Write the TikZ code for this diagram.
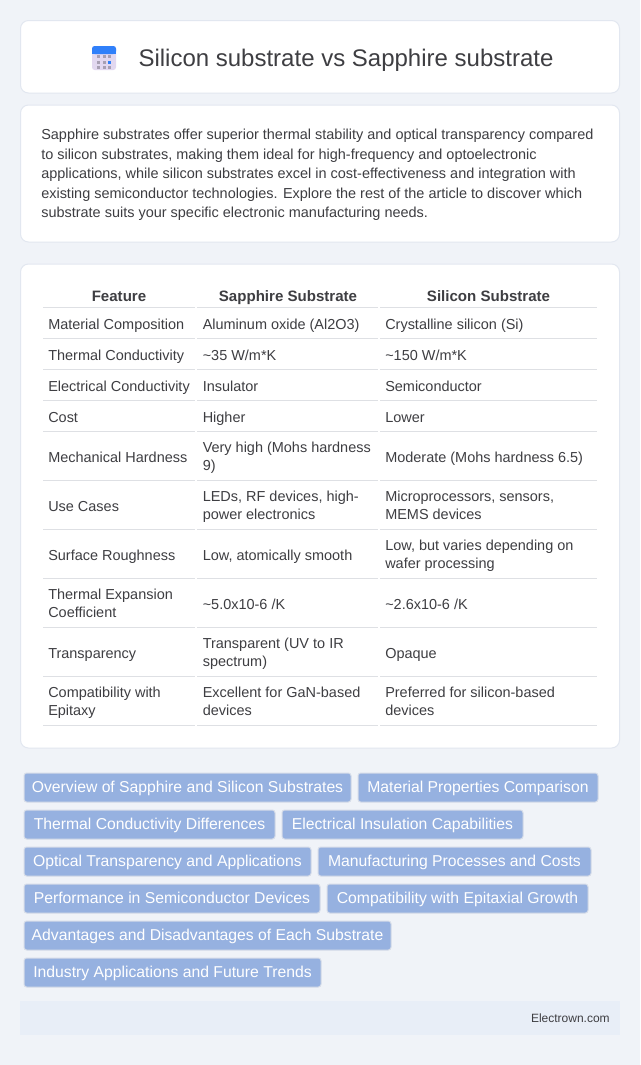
\documentclass[tikz,border=0pt]{standalone}
\usepackage{fontspec}
\setmainfont{Liberation Sans}
\usetikzlibrary{positioning}
\definecolor{pagebg}{RGB}{240,243,248}
\definecolor{panelline}{RGB}{226,231,240}
\definecolor{footbg}{RGB}{232,238,247}
\definecolor{tagblue}{RGB}{150,177,224}
\definecolor{tagline}{RGB}{214,220,232}
\definecolor{inktext}{RGB}{62,62,66}
\definecolor{rowline}{RGB}{222,224,228}
\definecolor{iconblue}{RGB}{48,128,250}
\definecolor{iconbody}{RGB}{226,216,240}
\definecolor{icondot}{RGB}{168,160,180}
\tikzstyle{panel} = [draw=panelline, fill=white, line width=0.75pt, rounded corners=6pt]
\tikzstyle{cell} = [anchor=west, inner sep=0pt, align=left, text=inktext, font=\fontsize{10.85}{13.5}\selectfont, execute at begin node=\strut, execute at end node=\strut]
\tikzstyle{headcell} = [anchor=base, inner sep=0pt, text=inktext, font=\fontsize{11.3}{13}\selectfont\bfseries]
\tikzstyle{tagbox} = [rectangle, rounded corners=2pt, draw=tagline, fill=tagblue, text=white, minimum height=21.75pt, text height=9.5pt, text depth=1.3pt, inner sep=0pt, line width=0.75pt, font=\fontsize{11.8}{14}\selectfont]
\begin{document}
\begin{tikzpicture}[x=0.75pt, y=-0.75pt]
\useasboundingbox (0,0) rectangle (640,1065);
\fill[pagebg] (0,0) rectangle (640,1065);
% Panels
\draw[panel] (20.5,20.5) rectangle (619.5,93);
\draw[panel] (20.5,105) rectangle (619.5,242);
\draw[panel] (20.5,264) rectangle (619.5,748);
\fill[footbg] (20,1001) rectangle (620,1035);
% Icon
\fill[iconbody, rounded corners=2pt] (92,46) rectangle (116,70);
\fill[iconblue, rounded corners=2pt] (92,46) rectangle (116,54);
\fill[iconblue] (92,51) rectangle (116,54);
\foreach \ix in {0,1,2}
  \foreach \iy in {0,1,2}
    \fill[icondot] (97+5.5*\ix,55+5.5*\iy) rectangle +(3,3);
\fill[iconblue] (108,60.5) rectangle +(3,3);
% Title
\node (title) [anchor=base, inner sep=0pt, text=inktext, font=\fontsize{18}{22}\selectfont] at (346,66) {Silicon substrate vs Sapphire substrate};
% Intro
\node (intro) [cell, anchor=north west, font=\fontsize{10.85}{14.65}\selectfont] at (41,129) {Sapphire substrates offer superior thermal stability and optical transparency compared\\to silicon substrates, making them ideal for high-frequency and optoelectronic\\applications, while silicon substrates excel in cost-effectiveness and integration with\\existing semiconductor technologies. Explore the rest of the article to discover which\\substrate suits your specific electronic manufacturing needs.};
% Table head
\node (hfeature) [headcell] at (119,301.5) {Feature};
\node (hsapphire) [headcell] at (288,301.5) {Sapphire Substrate};
\node (hsilicon) [headcell] at (488.5,301.5) {Silicon Substrate};
% Table rows
\foreach \ya/\ta/\tb/\tc in {
  326/{Material Composition}/{Aluminum oxide (Al2O3)}/{Crystalline silicon (Si)},
  357/{Thermal Conductivity}/{\textasciitilde35 W/m*K}/{\textasciitilde150 W/m*K},
  388/{Electrical Conductivity}/{Insulator}/{Semiconductor},
  419/{Cost}/{Higher}/{Lower},
  459/{Mechanical Hardness}/{Very high (Mohs hardness\\9)}/{Moderate (Mohs hardness 6.5)},
  508/{Use Cases}/{LEDs, RF devices, high-\\power electronics}/{Microprocessors, sensors,\\MEMS devices},
  557/{Surface Roughness}/{Low, atomically smooth}/{Low, but varies depending on\\wafer processing},
  606/{Thermal Expansion\\Coefficient}/{\textasciitilde5.0x10-6 /K}/{\textasciitilde2.6x10-6 /K},
  655/{Transparency}/{Transparent (UV to IR\\spectrum)}/{Opaque},
  704/{Compatibility with\\Epitaxy}/{Excellent for GaN-based\\devices}/{Preferred for silicon-based\\devices}}
{
  \node[cell] at (48,\ya) {\ta};
  \node[cell] at (202.5,\ya) {\tb};
  \node[cell] at (385,\ya) {\tc};
}
% Row lines
\foreach \yb in {307.5,338.5,369.5,400.5,431.5,480.5,529.5,578.5,627.5,676.5,725.5}
{
  \draw[rowline, line width=0.9pt] (43,\yb) -- (195,\yb);
  \draw[rowline, line width=0.9pt] (197,\yb) -- (378,\yb);
  \draw[rowline, line width=0.9pt] (380,\yb) -- (597,\yb);
}
% Tags
\node (t1) [tagbox, anchor=north west, minimum width=245.25pt] at (23.5,772.5) {Overview of Sapphire and Silicon Substrates};
\node (t2) [tagbox, right=4.5pt of t1, minimum width=180pt] {Material Properties Comparison};
\node (t3) [tagbox, anchor=north west, minimum width=188.25pt] at (23.5,809.5) {Thermal Conductivity Differences};
\node (t4) [tagbox, right=4.5pt of t3, minimum width=180.75pt] {Electrical Insulation Capabilities};
\node (t5) [tagbox, anchor=north west, minimum width=215.25pt] at (23.5,846.5) {Optical Transparency and Applications};
\node (t6) [tagbox, right=4.5pt of t5, minimum width=204.75pt] {Manufacturing Processes and Costs};
\node (t7) [tagbox, anchor=north west, minimum width=222pt] at (23.5,883.5) {Performance in Semiconductor Devices};
\node (t8) [tagbox, right=4.5pt of t7, minimum width=195.75pt] {Compatibility with Epitaxial Growth};
\node (t9) [tagbox, anchor=north west, minimum width=275.25pt] at (23.5,920.5) {Advantages and Disadvantages of Each Substrate};
\node (t10) [tagbox, anchor=north west, minimum width=222.75pt] at (23.5,957.5) {Industry Applications and Future Trends};
% Footer
\node (foot) [anchor=east, inner sep=0pt, text=inktext, font=\fontsize{9}{11}\selectfont] at (610,1018) {Electrown.com};
\end{tikzpicture}
\end{document}
